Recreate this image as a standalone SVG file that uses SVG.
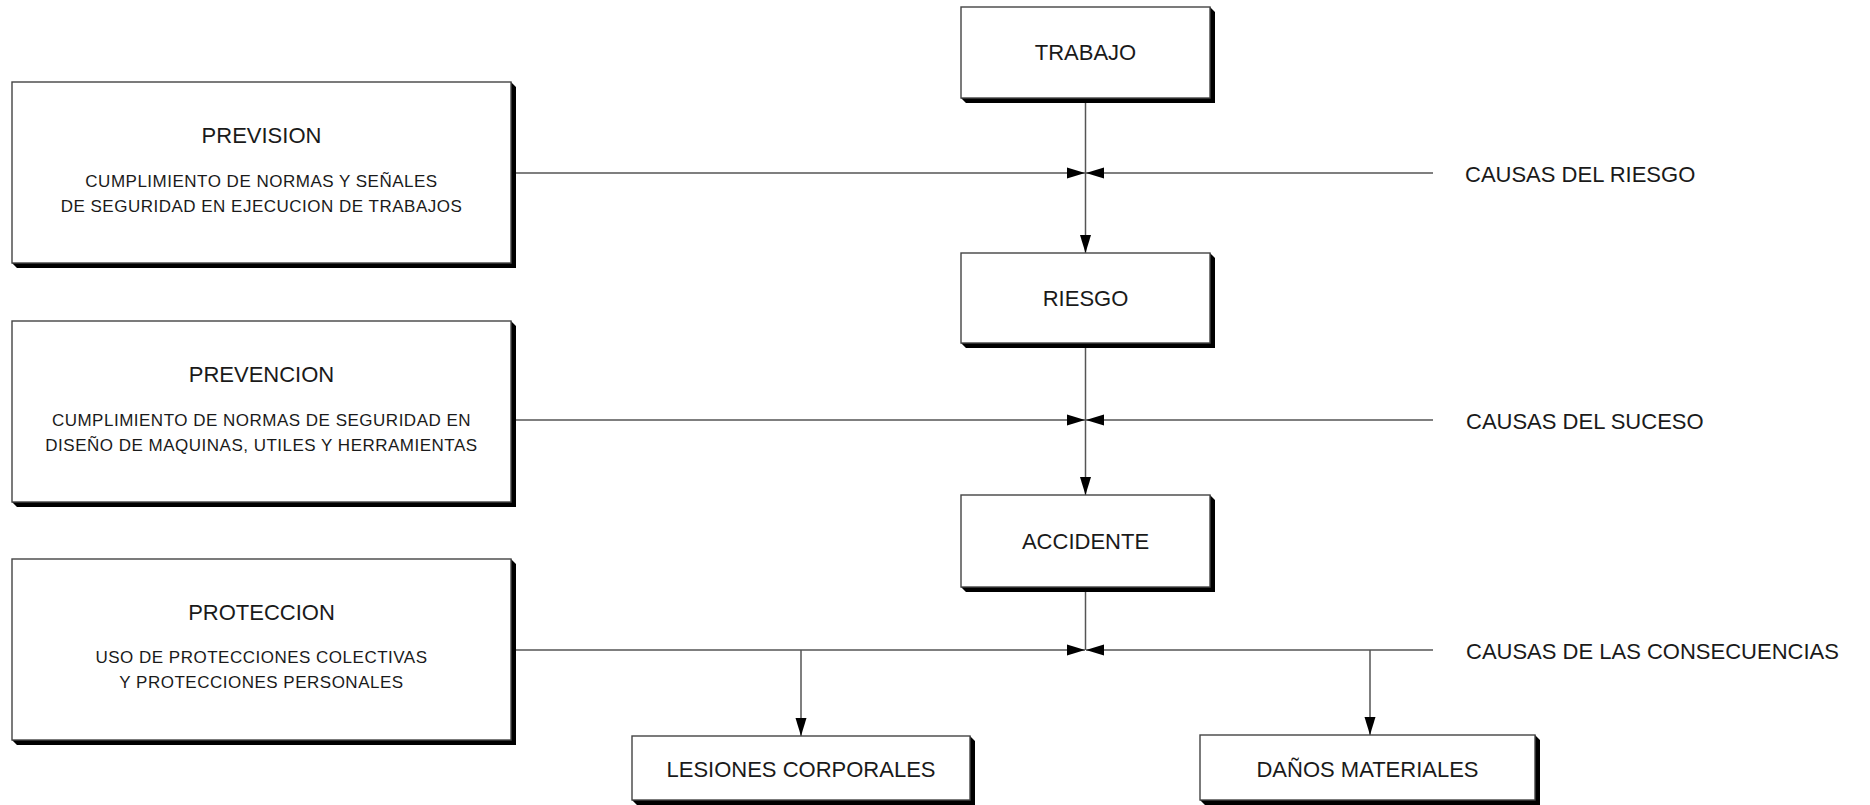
<svg xmlns="http://www.w3.org/2000/svg" width="1870" height="805" viewBox="0 0 1870 805">
<style>
.box{fill:#fff;stroke:#444;stroke-width:1.4}
.sh{fill:#000}
.big{font-family:"Liberation Sans",Arial,sans-serif;font-size:22px;fill:#1a1a1a}
.small{font-family:"Liberation Sans",Arial,sans-serif;font-size:17px;letter-spacing:0.5px;fill:#1a1a1a}
.mid{text-anchor:middle}
.ln{stroke:#555;stroke-width:1.5;fill:none}
</style>
<defs>
<marker id="ah" markerUnits="userSpaceOnUse" markerWidth="18" markerHeight="12" refX="18" refY="6" orient="auto" viewBox="0 0 18 12">
<path d="M0,0.5 L18,6 L0,11.5 Z" fill="#000"/>
</marker>
</defs>
<g id="connectors">
<line class="ln" x1="515" y1="173" x2="1085" y2="173" marker-end="url(#ah)"/>
<line class="ln" x1="1433" y1="173" x2="1086" y2="173" marker-end="url(#ah)"/>
<line class="ln" x1="515" y1="420" x2="1085" y2="420" marker-end="url(#ah)"/>
<line class="ln" x1="1433" y1="420" x2="1086" y2="420" marker-end="url(#ah)"/>
<line class="ln" x1="515" y1="650" x2="1085" y2="650" marker-end="url(#ah)"/>
<line class="ln" x1="1433" y1="650" x2="1086" y2="650" marker-end="url(#ah)"/>
<line class="ln" x1="1085.5" y1="98" x2="1085.5" y2="253" marker-end="url(#ah)"/>
<line class="ln" x1="1085.5" y1="343" x2="1085.5" y2="495" marker-end="url(#ah)"/>
<line class="ln" x1="1085.5" y1="587" x2="1085.5" y2="650"/>
<line class="ln" x1="801" y1="650" x2="801" y2="736" marker-end="url(#ah)"/>
<line class="ln" x1="1370" y1="650" x2="1370" y2="735" marker-end="url(#ah)"/>
</g>
<g id="trabajo">
<polygon class="sh" points="1210,7 1215,12 1215,103 966,103 961,98 1210,98"/>
<rect class="box" x="961" y="7" width="249" height="91"/>
<text class="big mid" x="1085.5" y="60">TRABAJO</text>
</g>
<g id="riesgo">
<polygon class="sh" points="1210,253 1215,258 1215,348 966,348 961,343 1210,343"/>
<rect class="box" x="961" y="253" width="249" height="90"/>
<text class="big mid" x="1085.5" y="306">RIESGO</text>
</g>
<g id="accidente">
<polygon class="sh" points="1210,495 1215,500 1215,592 966,592 961,587 1210,587"/>
<rect class="box" x="961" y="495" width="249" height="92"/>
<text class="big mid" x="1085.5" y="549">ACCIDENTE</text>
</g>
<g id="prevision">
<polygon class="sh" points="511,82 516,87 516,268 17,268 12,263 511,263"/>
<rect class="box" x="12" y="82" width="499" height="181"/>
<text class="big mid" x="261.5" y="143">PREVISION</text>
<text class="small mid" x="261.5" y="187">CUMPLIMIENTO DE NORMAS Y SEÑALES</text>
<text class="small mid" x="261.5" y="212">DE SEGURIDAD EN EJECUCION DE TRABAJOS</text>
</g>
<g id="prevencion">
<polygon class="sh" points="511,321 516,326 516,507 17,507 12,502 511,502"/>
<rect class="box" x="12" y="321" width="499" height="181"/>
<text class="big mid" x="261.5" y="382">PREVENCION</text>
<text class="small mid" x="261.5" y="426">CUMPLIMIENTO DE NORMAS DE SEGURIDAD EN</text>
<text class="small mid" x="261.5" y="451">DISEÑO DE MAQUINAS, UTILES Y HERRAMIENTAS</text>
</g>
<g id="proteccion">
<polygon class="sh" points="511,559 516,564 516,745 17,745 12,740 511,740"/>
<rect class="box" x="12" y="559" width="499" height="181"/>
<text class="big mid" x="261.5" y="620">PROTECCION</text>
<text class="small mid" x="261.5" y="663">USO DE PROTECCIONES COLECTIVAS</text>
<text class="small mid" x="261.5" y="688">Y PROTECCIONES PERSONALES</text>
</g>
<g id="lesiones">
<polygon class="sh" points="970,736 975,741 975,805 637,805 632,800 970,800"/>
<rect class="box" x="632" y="736" width="338" height="64"/>
<text class="big mid" x="801" y="777">LESIONES CORPORALES</text>
</g>
<g id="danos">
<polygon class="sh" points="1535,735 1540,740 1540,805 1205,805 1200,800 1535,800"/>
<rect class="box" x="1200" y="735" width="335" height="65"/>
<text class="big mid" x="1367.5" y="777">DAÑOS MATERIALES</text>
</g>
<g id="labels">
<text class="big" x="1465" y="182">CAUSAS DEL RIESGO</text>
<text class="big" x="1466" y="429">CAUSAS DEL SUCESO</text>
<text class="big" x="1466" y="659">CAUSAS DE LAS CONSECUENCIAS</text>
</g>
</svg>
